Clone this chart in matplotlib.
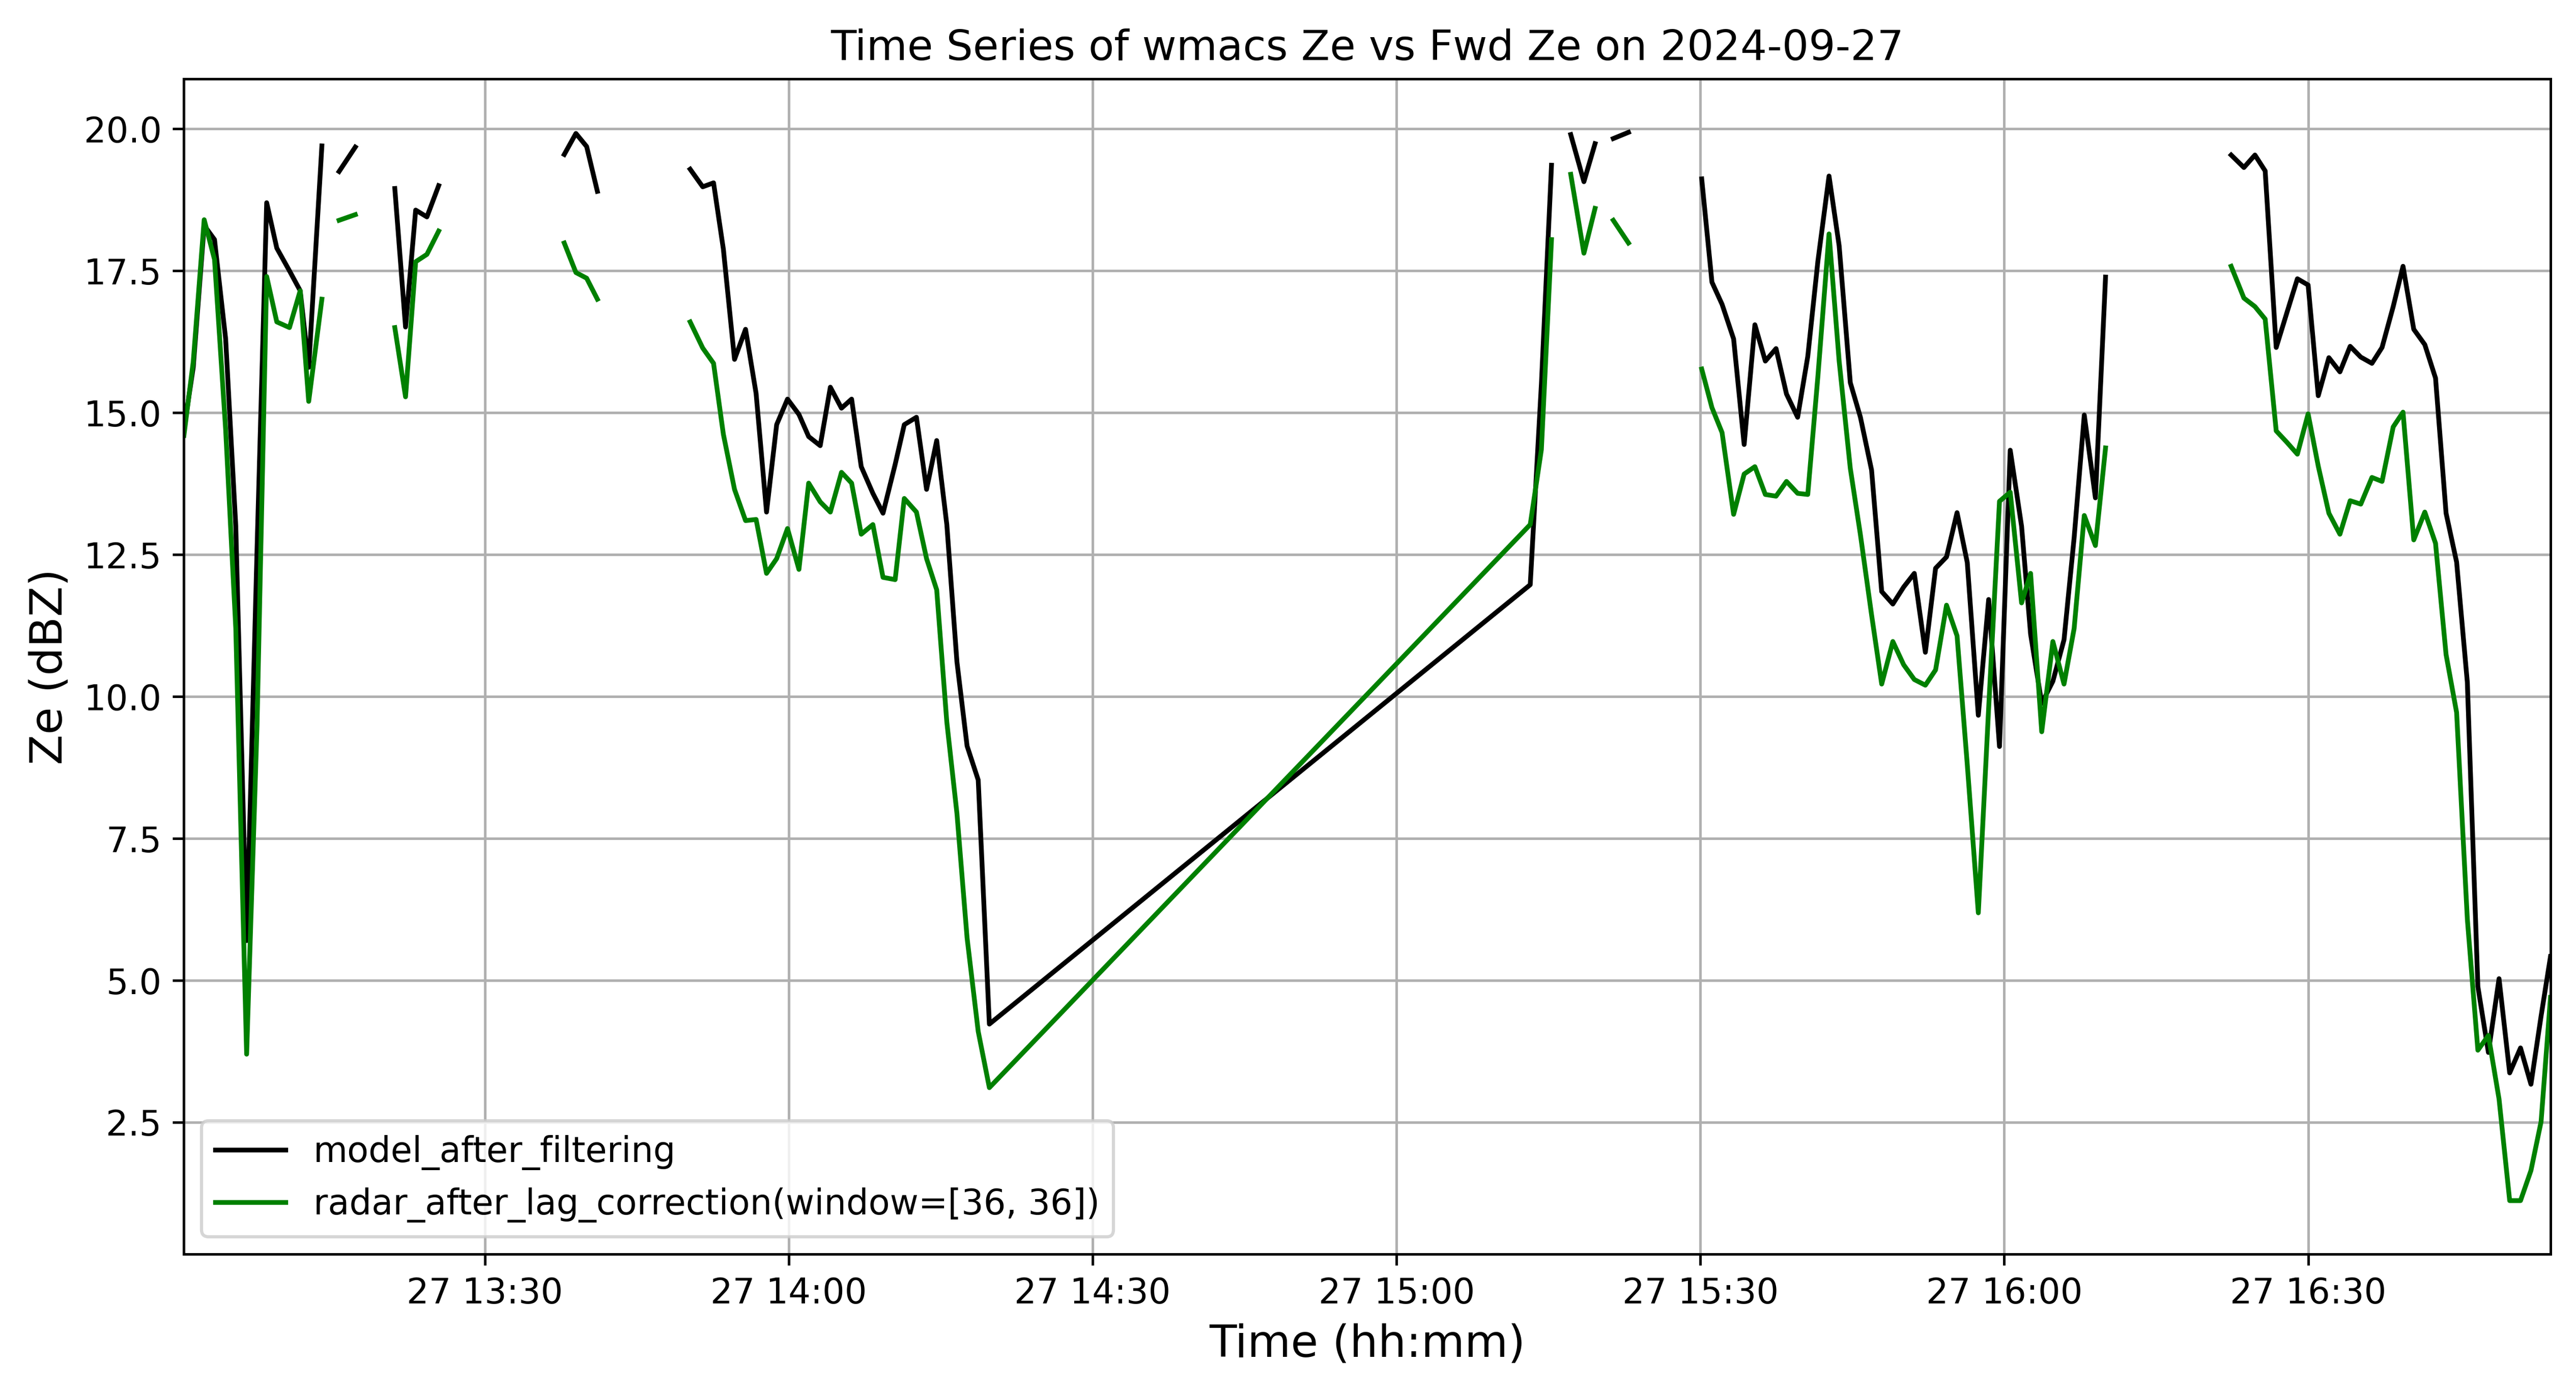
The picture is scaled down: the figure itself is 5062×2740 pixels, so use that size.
import matplotlib
matplotlib.use('Agg')
import matplotlib.pyplot as plt
import numpy as np
import pandas as pd

plt.rc('font', size=11)

# minutes after 13:00 on 2024-09-27, nan rows break the lines
minutes = [
    0.28, 1.2, 2.28, 3.3, 4.4, 5.4, 6.47, 7.5, 8.45, 9.45, 10.7, 11.76, 12.6, 13.9,
    14.75,
    15.6, 17.2,
    19.1,
    21.1, 22.16, 23.16, 24.27, 25.43,
    31.0,
    37.83, 38.98, 40.04, 41.1,
    45.0,
    50.26, 51.5, 52.57, 53.54, 54.64, 55.73, 56.77, 57.8, 58.8, 59.87,
    61.0, 61.96, 63.1, 64.1, 65.2, 66.2, 67.15, 68.3, 69.3, 70.5,
    71.4, 72.6, 73.6, 74.6, 75.6, 76.6, 77.6, 78.7, 79.8,
    133.2, 134.3, 135.3,
    136.2,
    137.2, 138.5, 139.6,
    140.5,
    141.4, 142.9,
    146.0,
    150.13, 151.14, 152.14, 153.28, 154.32, 155.38, 156.41, 157.47, 158.5, 159.6,
    160.6, 161.6, 162.7, 163.7, 164.8, 165.8, 166.9, 167.9, 169.0, 170.07,
    171.12, 172.21, 173.22, 174.3, 175.34, 176.35, 177.44, 178.46, 179.53, 180.59,
    181.71, 182.6, 183.7, 184.8, 185.9, 186.9, 187.9, 189.0, 190.0,
    196.0,
    202.4, 203.66, 204.75, 205.76, 206.85, 207.9, 208.94, 210.0, 211.0, 212.05,
    213.14, 214.15, 215.2, 216.3, 217.3, 218.4, 219.37, 220.43, 221.52, 222.58,
    223.62, 224.66, 225.72, 226.76, 227.8, 228.85, 229.9, 230.97, 232.0, 233.0,
    233.93,
]

model_ze = [
    14.7, 15.8, 18.3, 18.05, 16.3, 13.0, 5.7, 12.6, 18.7, 17.9, 17.5, 17.15, 15.8, 19.7,
    np.nan,
    19.25, 19.68,
    np.nan,
    18.95, 16.51, 18.57, 18.45, 19.0,
    np.nan,
    19.55, 19.92, 19.69, 18.9,
    np.nan,
    19.29, 18.98, 19.05, 17.88, 15.94, 16.47, 15.34, 13.25, 14.79, 15.24,
    14.97, 14.58, 14.42, 15.45, 15.08, 15.24, 14.05, 13.58, 13.23, 14.09,
    14.79, 14.92, 13.65, 14.51, 13.03, 10.61, 9.13, 8.53, 4.23,
    11.97, 15.5, 19.36,
    np.nan,
    19.9, 19.07, 19.74,
    np.nan,
    19.83, 19.94,
    np.nan,
    19.12, 17.3, 16.91, 16.3, 14.44, 16.55, 15.91, 16.13, 15.33, 14.92,
    15.99, 17.67, 19.17, 17.94, 15.53, 14.92, 13.99, 11.85, 11.63, 11.93,
    12.17, 10.78, 12.26, 12.46, 13.24, 12.36, 9.67, 11.71, 9.12, 14.34,
    13.0, 11.1, 9.88, 10.27, 11.0, 12.8, 14.96, 13.5, 17.39,
    np.nan,
    19.54, 19.32, 19.54, 19.26, 16.15, 16.76, 17.36, 17.25, 15.3, 15.97,
    15.72, 16.17, 15.98, 15.87, 16.15, 16.87, 17.58, 16.47, 16.2, 15.61,
    13.23, 12.37, 10.25, 4.89, 3.73, 5.03, 3.37, 3.81, 3.17, 4.37,
    5.42,
]

radar_ze = [
    14.6, 15.9, 18.4, 17.7, 14.7, 11.2, 3.7, 9.5, 17.4, 16.6, 16.5, 17.15, 15.2, 17.0,
    np.nan,
    18.39, 18.49,
    np.nan,
    16.5, 15.28, 17.66, 17.79, 18.2,
    np.nan,
    17.99, 17.47, 17.37, 17.0,
    np.nan,
    16.6, 16.14, 15.87, 14.62, 13.65, 13.1, 13.12, 12.17, 12.43, 12.96,
    12.24, 13.76, 13.43, 13.25, 13.95, 13.76, 12.86, 13.03, 12.1, 12.06,
    13.49, 13.25, 12.43, 11.88, 9.55, 7.94, 5.75, 4.1, 3.11,
    13.03, 14.35, 18.05,
    np.nan,
    19.2, 17.81, 18.6,
    np.nan,
    18.39, 17.99,
    np.nan,
    15.77, 15.09, 14.65, 13.21, 13.92, 14.05, 13.56, 13.53, 13.79, 13.58,
    13.56, 15.64, 18.15, 15.91, 14.02, 12.85, 11.44, 10.22, 10.97, 10.56,
    10.3, 10.2, 10.47, 11.61, 11.07, 8.8, 6.19, 9.8, 13.44, 13.6,
    11.65, 12.17, 9.38, 10.97, 10.22, 11.2, 13.19, 12.66, 14.38,
    np.nan,
    17.58, 17.02, 16.87, 16.65, 14.68, 14.48, 14.27, 14.98, 14.06, 13.23,
    12.86, 13.45, 13.39, 13.86, 13.79, 14.75, 15.01, 12.76, 13.25, 12.7,
    10.74, 9.72, 6.08, 3.77, 4.03, 2.91, 1.12, 1.12, 1.65, 2.51,
    4.7,
]

start = pd.Timestamp('2024-09-27 13:00:00')
time = start + pd.to_timedelta(minutes, unit='min')

fig = plt.figure(figsize=(5062 / 450, 2740 / 450), dpi=450)
ax = fig.add_subplot(111)
fig.subplots_adjust(left=0.0714, right=0.9901, bottom=0.1004, top=0.9434)

ax.plot(time, model_ze, color='black', label='model_after_filtering')
ax.plot(time, radar_ze, color='green', label='radar_after_lag_correction(window=[36, 36])')

ax.set_xlim(time[0], time[-1])
ax.set_title('Time Series of wmacs Ze vs Fwd Ze on 2024-09-27')
ax.set_xlabel('Time (hh:mm)', fontsize=14)
ax.set_ylabel('Ze (dBZ)', fontsize=14)
ax.grid(True)
ax.legend(loc='lower left')

fig.savefig('out.png', dpi=450)
